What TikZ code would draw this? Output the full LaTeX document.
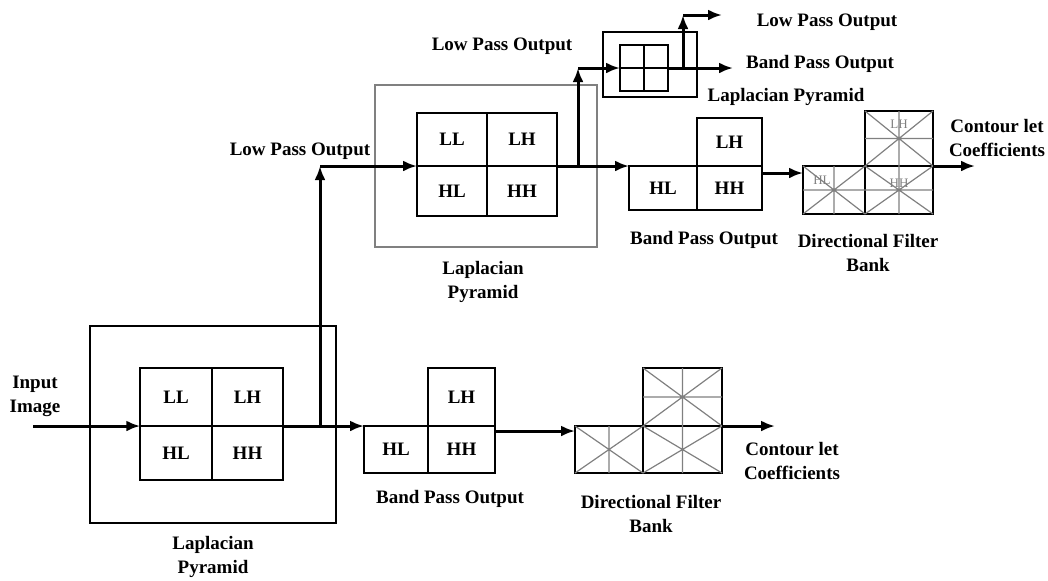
\documentclass[tikz,border=0pt]{standalone}
\usepackage{fontspec}
\setmainfont{Liberation Serif}
\usetikzlibrary{arrows.meta, positioning, calc}

\tikzset{
  every node/.style={font=\fontsize{9.5}{12}\selectfont\bfseries},
  cell/.style={draw, line width=1pt, inner sep=0pt, outer sep=0pt},
  lpbox/.style={draw, line width=1pt, inner sep=0pt, outer sep=0pt},
  gridline/.style={gray, line width=0.6pt},
  flow/.style={line width=1.5pt, -{Latex[length=7pt,width=5.5pt]}},
  lbl/.style={align=center},
  tinylbl/.style={font=\fontsize{6.5}{7}\selectfont, text=gray}
}

\begin{document}
\begin{tikzpicture}[x=0.5pt, y=-0.5pt]
  \useasboundingbox (0,0) rectangle (1048,580);

  % first level
  \node[lpbox, minimum width=123pt, minimum height=98.5pt] (lp1) at (213,424.5) {};
  \node[cell, minimum width=35.75pt, minimum height=29pt] (ll1) at (176,397) {LL};
  \node[cell, minimum width=35.75pt, minimum height=29pt, right=0pt of ll1] (lh1) {LH};
  \node[cell, minimum width=35.75pt, minimum height=27pt, below=0pt of ll1] (hl1) {HL};
  \node[cell, minimum width=35.75pt, minimum height=27pt, right=0pt of hl1] (hh1) {HH};

  \node[cell, minimum width=32pt, minimum height=23.5pt] (hl2) at (396,449.5) {HL};
  \node[cell, minimum width=33.5pt, minimum height=23.5pt, right=0pt of hl2] (hh2) {HH};
  \node[cell, minimum width=33.5pt, minimum height=29pt, above=0pt of hh2] (lh2) {LH};

  \node[cell, minimum width=34pt, minimum height=23.5pt] (dl1) at (609,449.5) {};
  \node[cell, minimum width=39.5pt, minimum height=23.5pt, right=0pt of dl1] (dr1) {};
  \node[cell, minimum width=39.5pt, minimum height=29pt, above=0pt of dr1] (du1) {};
  \draw[gridline] (dl1.north west) -- (dl1.south east) (dl1.south west) -- (dl1.north east)
    (dr1.north west) -- (dr1.south east) (dr1.south west) -- (dr1.north east)
    (du1.north west) -- (du1.south east) (du1.south west) -- (du1.north east)
    (dl1.north) -- (dl1.south) (du1.north) -- (dr1.south) (du1.west) -- (du1.east);

  \coordinate (in1) at (33,426);
  \coordinate (br1) at (320,426);
  \coordinate (out1) at (775,426);
  \draw[flow] (in1) -- (ll1.south west);
  \draw[flow] (lh1.south east) -- (hl2.north west);
  \draw[flow] ([yshift=-2.5pt]hh2.north east) -- ([yshift=-2.5pt]dl1.north west);
  \draw[flow] (dr1.north east) -- (out1);

  \node[lbl] at (35,396) {Input\\Image};
  \node[lbl] at (213,557) {Laplacian\\Pyramid};
  \node[lbl] at (450,499) {Band Pass Output};
  \node[lbl] at (651,514) {Directional Filter\\Bank};
  \node[lbl] at (792,461) {Contour let\\Coefficients};

  % second level
  \node[lpbox, draw=gray, minimum width=111pt, minimum height=81pt] (lp2) at (486,166) {};
  \node[cell, minimum width=35pt, minimum height=26.5pt] (ll3) at (452,139.5) {LL};
  \node[cell, minimum width=35pt, minimum height=26.5pt, right=0pt of ll3] (lh3) {LH};
  \node[cell, minimum width=35pt, minimum height=25pt, below=0pt of ll3] (hl3) {HL};
  \node[cell, minimum width=35pt, minimum height=25pt, right=0pt of hl3] (hh3) {HH};

  \node[cell, minimum width=34pt, minimum height=22pt] (hl4) at (663,188) {HL};
  \node[cell, minimum width=32.5pt, minimum height=22pt, right=0pt of hl4] (hh4) {HH};
  \node[cell, minimum width=32.5pt, minimum height=24pt, above=0pt of hh4] (lh4) {LH};

  \node[cell, minimum width=31pt, minimum height=24pt] (dl2) at (834,190) {};
  \node[cell, minimum width=34pt, minimum height=24pt, right=0pt of dl2] (dr2) {};
  \node[cell, minimum width=34pt, minimum height=27.5pt, above=0pt of dr2] (du2) {};
  \draw[gridline] (dl2.north west) -- (dl2.south east) (dl2.south west) -- (dl2.north east)
    (dr2.north west) -- (dr2.south east) (dr2.south west) -- (dr2.north east)
    (du2.north west) -- (du2.south east) (du2.south west) -- (du2.north east)
    (dl2.north) -- (dl2.south) (du2.north) -- (dr2.south)
    (du2.west) -- (du2.east) (dl2.west) -- (dr2.east);
  \node[tinylbl] at (899,124) {LH};
  \node[tinylbl] at (822,180) {HL};
  \node[tinylbl] at (899,183) {HH};

  \coordinate (br1top) at (br1 |- ll3.south west);
  \coordinate (br2) at (578,166);
  \coordinate (out2) at (975,166);
  \draw[flow] (br1) -- (br1top);
  \draw[flow] (br1top) -- (ll3.south west);
  \draw[flow] (lh3.south east) -- (hl4.north west);
  \draw[flow] ([yshift=-3.5pt]hh4.north east) -- ([yshift=-3.5pt]dl2.north west);
  \draw[flow] (dr2.north east) -- (out2);

  \node[lbl] at (300,151) {Low Pass Output};
  \node[lbl] at (483,282) {Laplacian\\Pyramid};
  \node[lbl] at (704,240) {Band Pass Output};
  \node[lbl] at (868,253) {Directional Filter\\Bank};
  \node[lbl] at (997,138) {Contour let\\Coefficients};

  % third level
  \node[lpbox, minimum width=47pt, minimum height=32.5pt] (lp3) at (650,64.5) {};
  \node[cell, minimum width=12pt, minimum height=11.5pt] (ll5) at (632,56.5) {};
  \node[cell, minimum width=12pt, minimum height=11.5pt, right=0pt of ll5] (lh5) {};
  \node[cell, minimum width=12pt, minimum height=11.5pt, below=0pt of ll5] (hl5) {};
  \node[cell, minimum width=12pt, minimum height=11.5pt, right=0pt of hl5] (hh5) {};

  \coordinate (br2top) at (br2 |- ll5.south west);
  \coordinate (br3) at (683,68);
  \coordinate (br3top) at (683,15);
  \coordinate (out3) at (733,68);
  \coordinate (out4) at (722,15);
  \draw[flow] (br2) -- (br2top);
  \draw[flow] (br2top) -- (ll5.south west);
  \draw[flow] (lh5.south east) -- (out3);
  \draw[flow] (br3) -- (br3top);
  \draw[flow] (br3top) -- (out4);

  \node[lbl] at (502,46) {Low Pass Output};
  \node[lbl] at (827,22) {Low Pass Output};
  \node[lbl] at (820,64) {Band Pass Output};
  \node[lbl] at (786,97) {Laplacian Pyramid};
\end{tikzpicture}
\end{document}
